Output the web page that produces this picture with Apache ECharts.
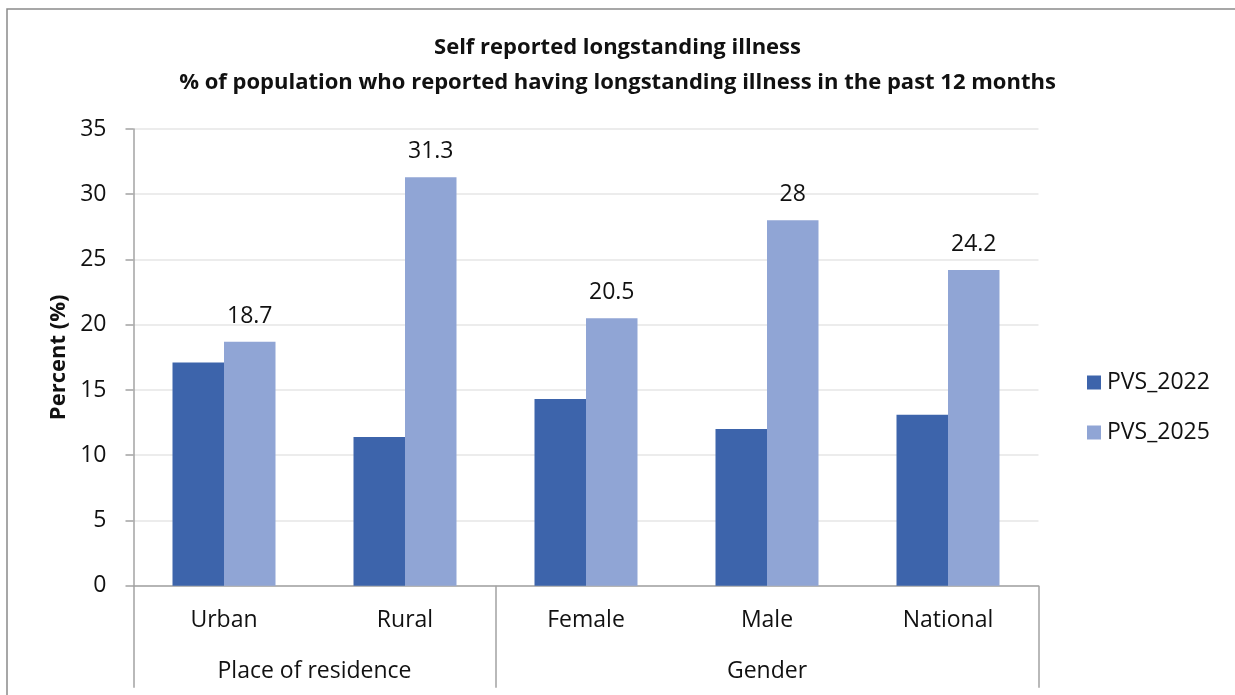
<!DOCTYPE html>
<html>
<head>
<meta charset="utf-8">
<script src="https://cdn.jsdelivr.net/npm/echarts@6/dist/echarts.min.js"></script>
<style>
  html, body { margin: 0; padding: 0; background: #fff; }
  #chart { width: 1235px; height: 695px; }
</style>
</head>
<body>
<div id="chart"></div>
<script>
// Categories on the x axis and the groups that span them
const categories = ['Urban', 'Rural', 'Female', 'Male', 'National'];
const groupNames = ['Place of residence', 'Gender'];
const groupSpans = [2, 3];

// Percent of population reporting longstanding illness
const pvs2022 = [17.1, 11.4, 14.3, 12.0, 13.1];
const pvs2025 = [18.7, 31.3, 20.5, 28, 24.2];

const seriesNames = ['PVS_2022', 'PVS_2025'];
const titleLines = ['Self reported longstanding illness',
  '% of population who reported having longstanding illness in the past 12 months'];

const FONT = '"Open Sans", Lato, sans-serif';
const TEXT = '#111';
const AXIS = '#a3a3a3';
const FS = 23;

// Centre of each group in category units, and the band boundaries between groups
const groupCenters = {};
const groupEdges = [0];
let acc = 0;
groupSpans.forEach((span, i) => {
  groupCenters[(acc + span / 2).toFixed(1)] = groupNames[i];
  acc += span;
  groupEdges.push(acc);
});

const chart = echarts.init(document.getElementById('chart'));
chart.setOption({
  backgroundColor: '#fff',
  animation: false,
  title: {
    text: titleLines.join('\n'),
    left: 'center',
    top: 25,
    textStyle: { fontFamily: FONT, fontSize: 22, fontWeight: 'bold', color: TEXT, lineHeight: 35 }
  },
  legend: {
    orient: 'vertical',
    left: 1082,
    top: 366,
    itemWidth: 14,
    itemHeight: 14,
    itemGap: 27,
    icon: 'rect',
    textStyle: { fontFamily: FONT, fontSize: FS, color: TEXT, lineHeight: 20, padding: [0, 0, 0, 1] },
    data: seriesNames
  },
  grid: { left: 133.5, right: 196.5, top: 129, bottom: 109.3 },
  xAxis: [
    {
      type: 'category',
      data: categories,
      axisLine: { lineStyle: { color: AXIS, width: 1.5 } },
      axisTick: {
        show: true,
        length: 102,
        interval: (idx) => groupEdges.indexOf(idx) !== -1,
        lineStyle: { color: AXIS, width: 1.5 }
      },
      axisLabel: { interval: 0, margin: 23, fontFamily: FONT, fontSize: FS, color: TEXT }
    },
    {
      type: 'value',
      position: 'bottom',
      min: 0,
      max: categories.length,
      interval: 0.5,
      axisLine: { show: false },
      axisTick: { show: false },
      splitLine: { show: false },
      axisLabel: {
        margin: 74,
        fontFamily: FONT, fontSize: FS, color: TEXT,
        showMinLabel: true, showMaxLabel: true,
        formatter: (v) => groupCenters[Number(v).toFixed(1)] || ''
      }
    }
  ],
  yAxis: {
    type: 'value',
    min: 0,
    max: 35,
    interval: 5,
    name: 'Percent (%)',
    nameLocation: 'middle',
    nameGap: 60,
    nameTextStyle: { fontFamily: FONT, fontSize: 22, fontWeight: 'bold', color: TEXT },
    axisLine: { show: true, lineStyle: { color: AXIS, width: 1.5 } },
    axisTick: { show: true, length: 8, lineStyle: { color: AXIS, width: 1.5 } },
    axisLabel: { margin: 27, fontFamily: FONT, fontSize: FS, color: TEXT },
    splitLine: { lineStyle: { color: '#e6e6e6', width: 1.5 } }
  },
  series: [
    {
      name: seriesNames[0],
      type: 'bar',
      data: pvs2022,
      barWidth: 51.5,
      barGap: '0%',
      itemStyle: { color: '#3d64ab' }
    },
    {
      name: seriesNames[1],
      type: 'bar',
      data: pvs2025,
      barWidth: 51.5,
      barGap: '0%',
      itemStyle: { color: '#90a5d5' },
      label: {
        show: true,
        position: 'top',
        distance: 14,
        fontFamily: FONT, fontSize: FS, color: TEXT
      }
    }
  ],
  graphic: [
    {
      type: 'rect',
      silent: true,
      shape: { x: 7, y: 9, width: 1300, height: 800 },
      style: { fill: 'none', stroke: '#8a8a8a', lineWidth: 1.5 },
      z: 100
    }
  ]
});
</script>
</body>
</html>
